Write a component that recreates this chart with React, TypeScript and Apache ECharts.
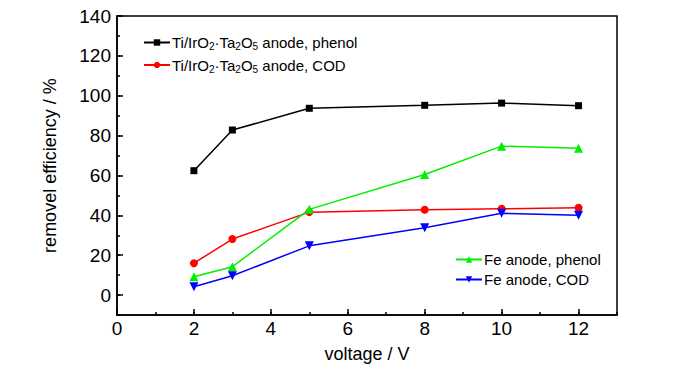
import React, { useEffect, useRef } from "react";
import * as echarts from "echarts";

const voltage = [2, 3, 5, 8, 10, 12];
const tiPhenol = [62.4, 82.8, 93.7, 95.2, 96.3, 95.0];
const tiCOD = [16.0, 28.1, 41.6, 42.8, 43.3, 43.8];
const fePhenol = [9.2, 14.2, 43.0, 60.5, 74.7, 73.7];
const feCOD = [4.2, 9.7, 24.7, 33.8, 41.0, 40.0];

const nameTiPhenol = "Ti/IrO2·Ta2O5 anode, phenol";
const nameTiCOD = "Ti/IrO2·Ta2O5 anode, COD";
const nameFePhenol = "Fe anode, phenol";
const nameFeCOD = "Fe anode, COD";

const FONT = "Liberation Sans, Arial, sans-serif";

const pairs = (ys: number[]) => voltage.map((x, i) => [x, ys[i]]);

export default function App() {
  const ref = useRef<HTMLDivElement>(null);
  useEffect(() => {
    document.body.style.margin = "0";
    const chart = echarts.init(ref.current!, null, { renderer: "svg" });
    const richStyles = {
      n: { fontSize: 15, fontFamily: FONT, color: "#000", lineHeight: 18, verticalAlign: "middle" },
      s: { fontSize: 10, fontFamily: FONT, color: "#000", lineHeight: 10, verticalAlign: "bottom" },
    };
    const tiFormatter = (name: string) => {
      const rest = name.replace("Ti/IrO2·Ta2O5", "");
      return `{n|Ti/IrO}{s|2}{n|·Ta}{s|2}{n|O}{s|5}{n|${rest}}`;
    };
    const mainAxisLabel = { color: "#000", fontSize: 19, fontFamily: FONT };
    const tickLine = { color: "#000", width: 1.5 };
    chart.setOption({
      animation: false,
      backgroundColor: "#fff",
      grid: {
        left: 117,
        top: 16,
        right: 83,
        bottom: 59,
        show: true,
        borderColor: "#000",
        borderWidth: 1.5,
        backgroundColor: "transparent",
      },
      legend: [
        {
          data: [nameTiPhenol, nameTiCOD],
          orient: "vertical",
          left: 138,
          top: 30,
          itemWidth: 26,
          itemHeight: 8,
          itemGap: 6,
          formatter: tiFormatter,
          textStyle: { rich: richStyles, padding: [0, 0, 0, -3] },
        },
        {
          data: [nameFePhenol, nameFeCOD],
          orient: "vertical",
          left: 450,
          top: 247,
          itemWidth: 26,
          itemHeight: 8,
          itemGap: 5,
          textStyle: { color: "#000", fontSize: 15, fontFamily: FONT, padding: [0, 0, 0, -3] },
        },
      ],
      xAxis: [
        {
          type: "value",
          min: 0,
          max: 13,
          minInterval: 2,
          maxInterval: 2,
          name: "voltage / V",
          nameLocation: "middle",
          nameGap: 30,
          nameTextStyle: { color: "#000", fontSize: 18, fontFamily: FONT },
          axisLine: { show: true, onZero: false, lineStyle: { color: "#000", width: 1.5 } },
          axisTick: { show: true, inside: true, length: 6, lineStyle: tickLine },
          axisLabel: { ...mainAxisLabel, margin: 4, showMaxLabel: false },
          splitLine: { show: false },
        },
        {
          type: "value",
          min: 0,
          max: 13,
          interval: 1,
          position: "bottom",
          axisLine: { show: false, onZero: false },
          axisTick: { show: true, inside: true, length: 3, lineStyle: tickLine },
          axisLabel: { show: false },
          splitLine: { show: false },
        },
      ],
      yAxis: [
        {
          type: "value",
          min: -10,
          max: 140,
          minInterval: 20,
          maxInterval: 20,
          name: "removel efficiency / %",
          nameLocation: "middle",
          nameGap: 58,
          nameTextStyle: { color: "#000", fontSize: 18, fontFamily: FONT },
          axisLine: { show: true, onZero: false, lineStyle: { color: "#000", width: 1.5 } },
          axisTick: { show: true, inside: true, length: 6, lineStyle: tickLine },
          axisLabel: { ...mainAxisLabel, margin: 6, showMinLabel: false },
          splitLine: { show: false },
        },
        {
          type: "value",
          min: -10,
          max: 140,
          interval: 10,
          position: "left",
          axisLine: { show: false, onZero: false },
          axisTick: { show: true, inside: true, length: 3, lineStyle: tickLine },
          axisLabel: { show: false },
          splitLine: { show: false },
        },
      ],
      series: [
        {
          name: nameTiPhenol,
          type: "line",
          data: pairs(tiPhenol),
          symbol: "rect",
          symbolSize: 7,
          lineStyle: { color: "#000", width: 1.5 },
          itemStyle: { color: "#000" },
        },
        {
          name: nameTiCOD,
          type: "line",
          data: pairs(tiCOD),
          symbol: "circle",
          symbolSize: 8,
          lineStyle: { color: "#ff0000", width: 1.5 },
          itemStyle: { color: "#ff0000" },
        },
        {
          name: nameFePhenol,
          type: "line",
          data: pairs(fePhenol),
          symbol: "triangle",
          symbolSize: 9,
          lineStyle: { color: "#00ee00", width: 1.5 },
          itemStyle: { color: "#00ee00" },
        },
        {
          name: nameFeCOD,
          type: "line",
          data: pairs(feCOD),
          symbol: "path://M0,0L10,0L5,9Z",
          symbolSize: 9,
          lineStyle: { color: "#0000ff", width: 1.5 },
          itemStyle: { color: "#0000ff" },
        },
      ],
    });
    return () => chart.dispose();
  }, []);
  return <div ref={ref} style={{ width: 700, height: 374 }} />;
}
